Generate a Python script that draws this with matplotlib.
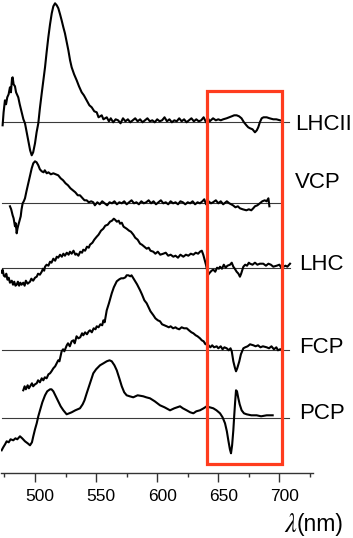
import matplotlib
matplotlib.use("Agg")
import matplotlib.pyplot as plt
from matplotlib.patches import Rectangle
from matplotlib.transforms import ScaledTranslation

plt.rcParams['font.family'] = ['Liberation Sans', 'DejaVu Sans']
plt.rcParams['mathtext.fontset'] = 'stix'

# ---------------- data (signal relative to each trace's baseline, arbitrary units) -------------
lhcii = [(473.5,-3),(474.3,10),(475.4,22),(476.3,18),(477.3,25),(478.4,28),(479.5,35),(480.3,30),(481.2,44),(481.7,45),(482.5,38),(483.6,36),(484.5,30),(486.3,25),(487.5,18),(489.1,10),(490.5,3),(491.8,-1),(493.2,-10),(494.5,-18),(496,-28),(497.3,-33),(498.5,-30),(500,-21),(501.3,-10),(502.7,-1),(504,14),(505.5,29),(507,43),(508.2,55),(509.5,70),(510.9,85),(512.3,98),(513.7,109),(515,116),(516.4,119),(517.8,117),(519.1,114),(520.5,108),(521.8,102),(523.2,95),(524.5,89),(526,80),(527.3,72),(528.7,62),(530,55),(532,48),(534.1,42),(536,36),(538.2,30),(540,27),(542.3,22),(544.5,17),(546.4,15),(548.5,11),(550.5,10),(552,5),(554.6,7),(556,3),(558.7,5),(560.5,1),(562,4),(564,0),(566,3),(568,2),(570,-1),(572,4),(574,1),(576,3),(578,0),(580,2),(582,4),(584,1),(586,3),(588,0),(590,2),(592,4),(594,1),(596,2),(598,0),(600,3),(602,1),(604,2),(606,5),(608,1),(610,3),(612,0),(614,2),(616,1),(618,4),(620,1),(622,3),(624,0),(626,2),(628,4),(630,1),(632,3),(634,1),(636,2),(638,5),(640,0),(641.5,4),(643,1),(645.7,4),(648,2),(650,3),(652,2),(654,3),(656.8,4),(659,5),(661,6),(663,7),(665,7),(667,6),(669,4),(671,0),(673,-3),(674.5,-5),(676,-6),(678,-7),(680,-10),(681.5,-8),(682.7,-5),(684,0),(685.5,4),(687,5),(689.6,5),(692,4),(695,3),(697.5,3),(700.5,2)]

vcp = [(479.5,-3),(480.5,-6),(481.7,-12),(482.5,-15),(483.6,-23),(484.3,-20),(485,-30),(485.7,-25),(486.3,-22),(487.2,-18),(488.3,-13),(489,-6),(489.9,0),(490.8,2),(491.8,5),(493,12),(494.5,20),(496,28),(497.3,35),(498.6,40),(500,42),(501.3,41),(502.7,38),(504,34),(505.5,32),(507,31),(508,33),(509.6,30),(511,31),(513,29),(515,30),(517,29),(519,28),(521,25),(523,23),(525,20),(527,18),(529,15),(531,13),(533,11),(535,8),(536.8,8),(539,5),(540.5,3),(542.3,3),(544,1),(546,2),(547.7,1),(549,-2),(551,1),(553,-1),(555,2),(557,0),(559,-2),(561,1),(563,0),(565,2),(567,-1),(569,1),(571,0),(573,2),(575,-1),(577,1),(579,3),(581,0),(583,1),(585,-1),(587,2),(589,0),(591,1),(593,3),(595,0),(597,2),(599,-1),(601,1),(603,3),(605,0),(607,1),(609,-1),(611,2),(613,0),(615,1),(617,-1),(619,2),(621,1),(623,-1),(625,1),(627,0),(629,2),(631,-1),(633,1),(635,0),(637,2),(638.5,4),(640,-1),(642,2),(644,0),(645.7,1),(648,3),(650,0),(652,2),(654,-1),(657,2),(659,0),(662,-2),(664,-4),(666,-3),(667.7,-5),(670,-6),(673,-7),(675,-6),(677,-7),(678.6,-5),(680,-3),(682,-2),(684,0),(686,2),(688,3),(689.5,2),(691,5),(691.8,-3)]

lhc = [(472.7,-5),(473.5,-2),(474.5,-8),(475.5,-9),(476.5,-6),(477.5,-12),(478.5,-10),(479.5,-15),(481,-13),(482,-17),(483,-14),(484,-18),(485,-17),(486,-14),(487,-18),(488,-15),(489,-17),(490.4,-15),(491.5,-18),(492.5,-13),(494,-16),(495.9,-14),(497,-11),(498.5,-13),(500,-10),(501.4,-9),(502.5,-6),(504,-7),(505.5,-4),(506.5,-1),(507.5,-3),(508.2,1),(509.5,3),(511,2),(512.3,6),(513.5,5),(515,9),(516.5,7),(517.8,11),(519,10),(520.5,13),(522,11),(523.2,14),(524.5,12),(526,15),(527.5,13),(528.6,16),(530,14),(531.5,17),(533,13),(534,14),(535.5,12),(537,16),(538.5,15),(539.5,18),(541,17),(542.5,21),(544,20),(545,23),(547,25),(548.5,28),(550.5,31),(552,33),(554,37),(555.9,39),(557.5,42),(559.5,43),(561.4,46),(563,47),(564.5,49),(565.5,48),(567,46),(568.5,47),(569.6,44),(571,45),(572.5,41),(575,39),(577,37),(578.5,36),(580.5,33),(582,30),(584,28),(586,24),(587.5,23),(589.5,21),(591.4,19),(593,20),(594.5,17),(596.8,16),(598.5,14),(600.5,16),(602.5,13),(605,14),(607,15),(609,12),(611,13),(613.2,11),(615,12),(617,10),(619,13),(621.4,11),(623.5,13),(625.5,12),(627.5,14),(629.6,13),(631.5,15),(633.5,14),(635,16),(636.5,17),(637.7,13),(638.8,8),(639.9,3),(640.8,-2),(641.8,-7),(643,-5),(644.5,-3),(645.9,-2),(647.5,-4),(649,0),(650.5,-1),(651.4,1),(653,-1),(654.5,3),(656,0),(657.5,2),(659.6,3),(661,5),(662.3,1),(663.5,-1),(665,-4),(666.5,-6),(667.7,-9),(668.7,-6),(670.5,1),(672,3),(673.5,2),(675,5),(676,4),(678,3),(680,5),(682,3),(684,4),(686.8,4),(689,2),(691,4),(693,3),(695,1),(697.8,2),(700,3),(701.5,0),(703.2,1),(705,2),(706.5,1),(708.7,4)]

fcp = [(490.4,-40),(491.5,-36),(492.5,-39),(494,-35),(495,-38),(496,-36),(497.5,-33),(498.5,-36),(500,-34),(501.4,-33),(502.5,-30),(504,-32),(505.5,-28),(506.8,-30),(508,-27),(509.5,-28),(511,-24),(512.3,-23),(513.5,-21),(515,-18),(516.5,-16),(517.8,-13),(519,-10),(520,-11),(521.8,-1),(523,1),(524,-1),(526,5),(527,7),(528.5,4),(530,9),(531.5,10),(532.5,7),(534,14),(535.5,12),(537,13),(538.5,17),(539.5,15),(541,18),(542.5,16),(544,19),(545,20),(546.5,18),(548,22),(549.5,21),(550.5,24),(552,23),(553.5,26),(555,25),(556,30),(557,28),(558.7,40),(560.5,47),(562.8,57),(564.5,63),(566.9,69),(569,71),(570.5,72),(572.3,72),(574,73),(575,75),(576.4,75),(578,74),(579,75),(580.5,72),(582,69),(583.5,66),(586,60),(587.5,56),(589.5,50),(591.4,47),(593,43),(594.5,39),(596.9,35),(598.5,32),(600.5,30),(602.3,29),(604,26),(606,25),(607.8,24),(609.5,23),(611,24),(613,22),(615,23),(616,22),(618,21),(620,23),(622,22),(624.2,22),(626,20),(628,18),(629.6,17),(631.5,15),(633,14),(635,12),(636.5,10),(638,9),(639.5,6),(640.5,7),(642,5),(643.5,3),(645,5),(646.5,3),(648.7,4),(650,2),(652,4),(653.5,1),(655,3),(656.9,2),(658.5,0),(660,2),(661,-1),(662.3,-11),(663.5,-17),(664.5,-21),(665.5,-18),(667.2,-11),(668.5,-4),(670.5,2),(672,3),(674,4),(676,6),(678.7,5),(680.5,4),(682.5,5),(684.5,3),(686.5,4),(689.6,3),(691.5,2),(693.5,4),(695.5,1),(697.5,3),(698.8,0),(700.5,1)]

pcp = [(472.7,-32),(474,-29),(475.5,-26),(476.8,-23),(478.5,-24),(480,-21),(482.2,-22),(484,-20),(485.5,-21),(487.7,-18),(489.5,-20),(491.8,-23),(494,-25),(495.9,-27),(497.5,-24),(498.6,-18),(500,-11),(501.4,-5),(502.7,2),(504.1,8),(506,16),(508.2,23),(510,27),(512.3,29),(513.5,29),(515,27),(517,22),(519,17),(521,12),(523.2,8),(525.9,4),(528,5),(530,6),(533,8),(536.8,10),(539,14),(540.5,18),(542.3,25),(545,35),(547.7,45),(550,49),(553.2,53),(556,55),(558.7,57),(561,58),(562.8,57),(565,53),(566.9,48),(569,40),(571,32),(573,26),(575,23),(577.5,22),(580.4,21),(584,23),(588.6,22),(591,21),(594.1,20),(598,17),(602.3,13),(606,11),(610.5,8),(614,10),(618.7,12),(621,10),(624.1,8),(627,6),(629.6,5),(632,7),(635,8),(638,10),(640.5,12),(643,11),(645.9,10),(648.5,8),(651.4,5),(653.5,1),(655.5,-5),(657,-13),(658.2,-22),(659.5,-31),(660.4,-35),(661.3,-27),(662.3,-12),(663,2),(663.7,15),(664.5,28),(665.3,27),(666.4,20),(667.5,14),(669.1,8),(671,5),(673.2,4),(677,3),(681.4,3),(685,2),(689.6,3),(692,3),(694.5,3)]

names = ['LHCII', 'VCP', 'LHC', 'FCP', 'PCP']
series = [lhcii, vcp, lhc, fcp, pcp]
xticks = [500, 550, 600, 650, 700]
xticks_minor = [475, 525, 575, 625, 675, 725]

# ---------------- layout / style ----------------
W, H = 353, 538
offsets = [350.7, 269.7, 205.3, 122.7, 54.7]          # vertical stacking offsets
base_ends = [708, 702, 708.5, 708, 708]                 # baseline right ends (nm)
label_x = [295, 295, 299, 299.3, 299.3]                 # px
label_base = [130, 188.3, 270, 353.3, 419]              # px (text baseline)

fig = plt.figure(figsize=(W/100, H/100), dpi=100)
ax = fig.add_axes([1.4/W, (H-473)/H, 311.6/W, 473/H])
ax.set_xlim(472.5, 727.5)
ax.set_ylim(0, 473)

for s, off, xe in zip(series, offsets, base_ends):
    ax.plot([473.3, xe], [off, off], color='#3a3a3a', lw=0.8, zorder=1)
    xs = [p[0] for p in s]
    ys = [off + p[1] for p in s]
    ax.plot(xs, ys, color='black', lw=1.5, zorder=2, solid_joinstyle='round')

ax.add_patch(Rectangle((641, 9), 61.4, 373.3, fill=False, edgecolor='#FF3C1E',
                       lw=2.3, zorder=3, clip_on=False))

for sp in ['top', 'right', 'left']:
    ax.spines[sp].set_visible(False)
ax.spines['bottom'].set_color('#333333')
ax.spines['bottom'].set_linewidth(1.0)
ax.set_yticks([])
ax.set_xticks(xticks)
ax.set_xticklabels([str(t) for t in xticks])
ax.set_xticks(xticks_minor, minor=True)
ax.tick_params(axis='x', which='major', direction='out', length=6.5, width=1.0,
               color='#333333', labelsize=12.5, pad=5)
ax.tick_params(axis='x', which='minor', direction='out', length=3, width=1.0,
               color='#333333')
shift = ScaledTranslation(5/100, 0, fig.dpi_scale_trans)
for lab in ax.get_xticklabels():
    lab.set_transform(lab.get_transform() + shift)

for n, lx, lb in zip(names, label_x, label_base):
    fig.text(lx/W, 1 - lb/H, n, fontsize=16, ha='left', va='baseline', color='black')

fig.text(297.5/W, 1 - 525/H, r'$\lambda$', fontsize=19, ha='right', va='center')
fig.text(344/W, 1 - 525/H, '(nm)', fontsize=16.5, ha='right', va='center')

fig.savefig('out.png', dpi=100)
